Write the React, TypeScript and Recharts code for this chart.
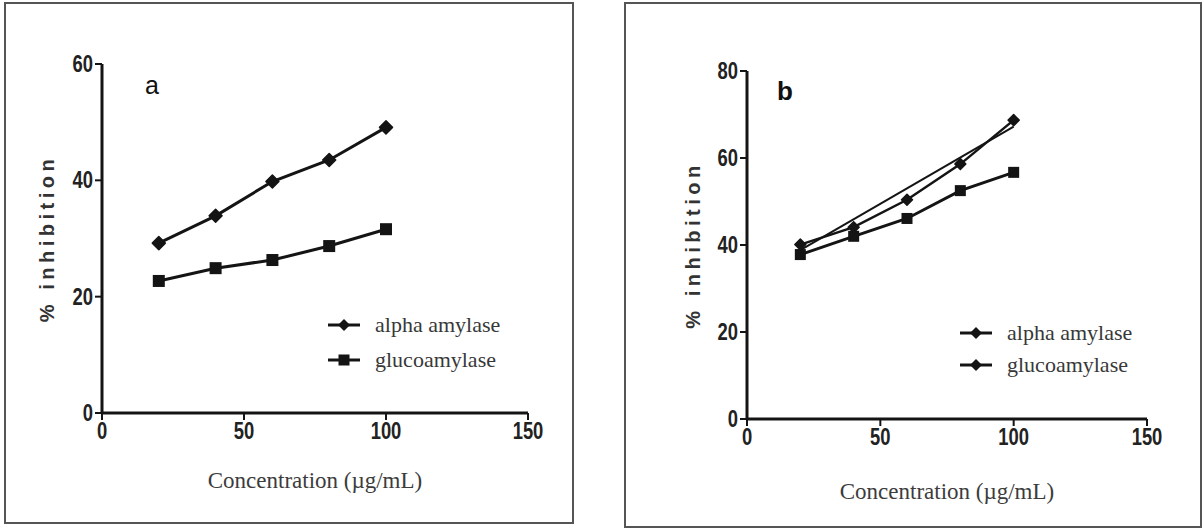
import React from 'react';
import { LineChart, Line, XAxis, YAxis, Legend } from 'recharts';

// ---- data ----
const concentrations = [20, 40, 60, 80, 100];
const alphaA = [29.2, 33.9, 39.8, 43.5, 49.1];
const glucoA = [22.7, 24.9, 26.3, 28.7, 31.6];
const alphaB = [40.1, 44.1, 50.4, 58.6, 68.7];
const glucoB = [37.8, 42.0, 46.1, 52.5, 56.7];
const fitBX = [20, 100];
const fitBY = [38.8, 67.2];
const xTicks = [0, 50, 100, 150];
const yTicksA = [0, 20, 40, 60];
const yTicksB = [0, 20, 40, 60, 80];
const seriesNames = ['alpha amylase', 'glucoamylase'];

const dataA = concentrations.map((x, i) => ({ x, alpha: alphaA[i], gluco: glucoA[i] }));
const dataB = concentrations.map((x, i) => ({ x, alpha: alphaB[i], gluco: glucoB[i] }));
const fitB = fitBX.map((x, i) => ({ x, fit: fitBY[i] }));

const INK = '#141414';

const diamondDot = (s: number) => (p: any) => {
  const { cx, cy, index } = p;
  if (cx == null || cy == null) return <g key={index} />;
  return (
    <polygon
      key={index}
      points={`${cx},${cy - s} ${cx + s},${cy} ${cx},${cy + s} ${cx - s},${cy}`}
      fill={INK}
      stroke={INK}
      strokeWidth={1.5}
      strokeLinejoin="round"
    />
  );
};

const squareDot = (s: number) => (p: any) => {
  const { cx, cy, index } = p;
  if (cx == null || cy == null) return <g key={index} />;
  return <rect key={index} x={cx - s} y={cy - s} width={2 * s} height={2 * s} fill={INK} />;
};

const XTick = (p: any) => {
  const { x, y, payload } = p;
  return (
    <g transform={`translate(${x},${y})`}>
      <text
        transform="scale(0.8,1)"
        textAnchor="middle"
        dy={17}
        fontFamily="'Liberation Sans', Arial, sans-serif"
        fontWeight="bold"
        fontSize={23}
        fill="#222"
      >
        {payload.value}
      </text>
    </g>
  );
};

const YTick = (p: any) => {
  const { x, y, payload } = p;
  return (
    <g transform={`translate(${x},${y})`}>
      <text
        transform="scale(0.8,1)"
        textAnchor="end"
        dy={8}
        fontFamily="'Liberation Sans', Arial, sans-serif"
        fontWeight="bold"
        fontSize={23}
        fill="#222"
      >
        {payload.value}
      </text>
    </g>
  );
};

const yLabel = (dxFromPlot: number) => (p: any) => {
  const vb = p.viewBox || {};
  const cx = vb.x + vb.width - dxFromPlot;
  const cy = vb.y + vb.height / 2;
  return (
    <text
      x={cx}
      y={cy}
      transform={`rotate(-90, ${cx}, ${cy})`}
      textAnchor="middle"
      dominantBaseline="central"
      fontFamily="'Liberation Sans', Arial, sans-serif"
      fontWeight="bold"
      fontSize={20}
      letterSpacing={4.5}
      fill="#333"
    >
      % inhibition
    </text>
  );
};

const xLabel = (dy: number) => (p: any) => {
  const vb = p.viewBox || {};
  const cx = vb.x + vb.width / 2;
  const cy = vb.y + dy;
  return (
    <text
      x={cx}
      y={cy}
      textAnchor="middle"
      fontFamily="'Liberation Serif', 'Times New Roman', serif"
      fontSize={23}
      fill="#3c3c3c"
    >
      Concentration (µg/mL)
    </text>
  );
};

const makeLegend = (markers: ('diamond' | 'square')[], rowH: number) => () => (
  <div style={{ display: 'flex', flexDirection: 'column' }}>
    {seriesNames.map((name, i) => (
      <div key={name} style={{ display: 'flex', alignItems: 'center', height: rowH }}>
        <svg width={32} height={20} style={{ display: 'block' }}>
          <line x1={0} y1={10} x2={32} y2={10} stroke={INK} strokeWidth={3} />
          {markers[i] === 'diamond' ? (
            <polygon points="16,4 22,10 16,16 10,10" fill={INK} />
          ) : (
            <rect x={10.5} y={4.5} width={11} height={11} fill={INK} />
          )}
        </svg>
        <span
          style={{
            marginLeft: 15,
            fontFamily: "'Liberation Serif', 'Times New Roman', serif",
            fontSize: 22,
            color: '#383838',
            whiteSpace: 'nowrap',
          }}
        >
          {name}
        </span>
      </div>
    ))}
  </div>
);

const frame = (left: number, top: number, width: number, height: number): React.CSSProperties => ({
  position: 'absolute',
  left,
  top,
  width,
  height,
  border: '2px solid #555',
  boxSizing: 'border-box',
});

export default function App() {
  return (
    <div style={{ position: 'absolute', left: 0, top: 0, width: 1204, height: 529, background: '#fff', overflow: 'hidden' }}>
      <div style={frame(4, 2, 570, 522)} />
      <div style={frame(624, 2, 578, 526)} />

      {/* Panel a */}
      <div style={{ position: 'absolute', left: 0, top: 0 }}>
        <LineChart width={600} height={529} margin={{ top: 64, right: 72, bottom: 86, left: 62 }}>
          <XAxis
            dataKey="x"
            type="number"
            domain={[0, 150]}
            ticks={xTicks}
            height={30}
            axisLine={{ stroke: INK, strokeWidth: 3 }}
            tickLine={{ stroke: INK, strokeWidth: 2 }}
            tickSize={7}
            tickMargin={2}
            tick={<XTick />}
            label={{ content: xLabel(75) }}
            allowDuplicatedCategory={false}
          />
          <YAxis
            type="number"
            domain={[0, 60]}
            ticks={yTicksA}
            width={40}
            axisLine={{ stroke: INK, strokeWidth: 3 }}
            tickLine={{ stroke: INK, strokeWidth: 2 }}
            tickSize={7}
            tickMargin={2}
            tick={<YTick />}
            label={{ content: yLabel(55) }}
          />
          <Legend
            layout="vertical"
            verticalAlign="middle"
            align="center"
            content={makeLegend(['diamond', 'square'], 35)}
            wrapperStyle={{ position: 'absolute', left: 328, top: 307, width: 230 }}
          />
          <Line data={dataA} dataKey="alpha" name="alpha amylase" stroke={INK} strokeWidth={3} dot={diamondDot(6.5)} isAnimationActive={false} />
          <Line data={dataA} dataKey="gluco" name="glucoamylase" stroke={INK} strokeWidth={3} dot={squareDot(6)} isAnimationActive={false} />
        </LineChart>
      </div>
      <div style={{ position: 'absolute', left: 145, top: 71, fontFamily: "'Liberation Sans', Arial, sans-serif", fontSize: 25, color: '#111' }}>a</div>

      {/* Panel b */}
      <div style={{ position: 'absolute', left: 604, top: 0 }}>
        <LineChart width={600} height={529} margin={{ top: 71, right: 57, bottom: 80, left: 103 }}>
          <XAxis
            dataKey="x"
            type="number"
            domain={[0, 150]}
            ticks={xTicks}
            height={30}
            axisLine={{ stroke: INK, strokeWidth: 3 }}
            tickLine={{ stroke: INK, strokeWidth: 2 }}
            tickSize={7}
            tickMargin={2}
            tick={<XTick />}
            label={{ content: xLabel(80) }}
            allowDuplicatedCategory={false}
          />
          <YAxis
            type="number"
            domain={[0, 80]}
            ticks={yTicksB}
            width={40}
            axisLine={{ stroke: INK, strokeWidth: 3 }}
            tickLine={{ stroke: INK, strokeWidth: 2 }}
            tickSize={7}
            tickMargin={2}
            tick={<YTick />}
            label={{ content: yLabel(54) }}
          />
          <Legend
            layout="vertical"
            verticalAlign="middle"
            align="center"
            content={makeLegend(['diamond', 'diamond'], 32)}
            wrapperStyle={{ position: 'absolute', left: 356, top: 317, width: 230 }}
          />
          <Line data={fitB} dataKey="fit" name="fit" legendType="none" stroke={INK} strokeWidth={2} dot={false} isAnimationActive={false} />
          <Line data={dataB} dataKey="alpha" name="alpha amylase" stroke={INK} strokeWidth={2.5} dot={diamondDot(5.5)} isAnimationActive={false} />
          <Line data={dataB} dataKey="gluco" name="glucoamylase" stroke={INK} strokeWidth={3} dot={squareDot(5.5)} isAnimationActive={false} />
        </LineChart>
      </div>
      <div style={{ position: 'absolute', left: 777, top: 76, fontFamily: "'Liberation Sans', Arial, sans-serif", fontWeight: 'bold', fontSize: 26, color: '#111' }}>b</div>
    </div>
  );
}
